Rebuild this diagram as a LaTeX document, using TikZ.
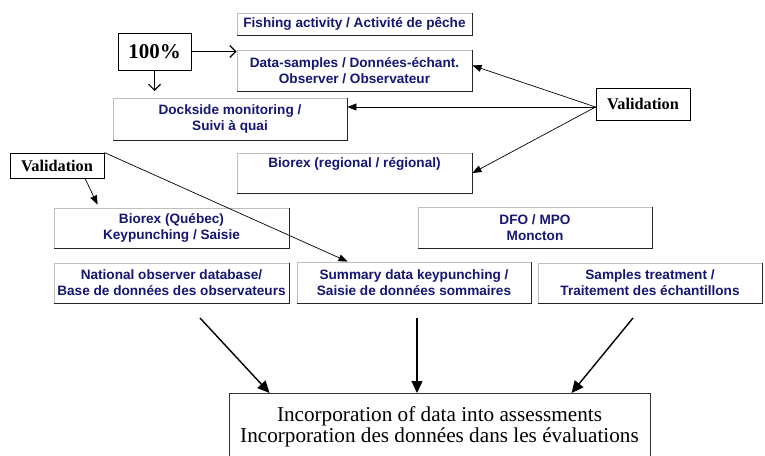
\documentclass[tikz,border=0pt]{standalone}
\usepackage{fontspec}
\setmainfont{Liberation Serif}
\setsansfont{Liberation Sans}
\usetikzlibrary{arrows.meta,calc}
\definecolor{navy}{RGB}{22,22,115}
\begin{document}
\begin{tikzpicture}[x=1pt,y=-1pt,
  box/.style={draw=gray!50, line width=0.9pt, fill=white, inner sep=0pt, align=center,
    font=\sffamily\bfseries\fontsize{13.6}{16}\selectfont, text=navy},
  tbox/.style={draw=black, line width=0.9pt, fill=white, inner sep=0pt,
    font=\bfseries\fontsize{16.3}{19}\selectfont},
  shadeline/.style={line width=1.2pt, black!85},
  thinarrow/.style={line width=0.7pt, -{Triangle[length=9pt,width=7pt]}},
  openarrow/.style={line width=1.1pt, -{Straight Barb[length=6pt,width=12pt]}},
  bigarrow/.style={line width=1.4pt, -{Triangle[length=12pt,width=11pt]}}
]
\useasboundingbox (0,0) rectangle (765,455);
\clip (0,0) rectangle (765,455);

% boxes
\node[box, minimum width=235pt, minimum height=22pt] (fish) at (354.5,24) {Fishing activity / Activité de pêche};
\node[box, minimum width=235pt, minimum height=41pt] (data) at (354.5,70.5) {Data-samples / Données-échant.\\Observer / Observateur};
\node[box, minimum width=234pt, minimum height=42pt] (dock) at (230,119) {Dockside monitoring /\\Suivi à quai};
\node[box, minimum width=235pt, minimum height=40pt] (bioR) at (354.5,173) {Biorex (regional / régional)\\\strut};
\node[box, minimum width=235pt, minimum height=40pt] (bioQ) at (171.5,228) {Biorex (Québec)\\Keypunching / Saisie};
\node[box, minimum width=234pt, minimum height=41pt] (dfo) at (535,227.5) {DFO / MPO\\Moncton};
\node[box, minimum width=235pt, minimum height=40pt] (nat) at (171.5,283) {National observer database/\\Base de données des observateurs};
\node[box, minimum width=234pt, minimum height=41pt] (summ) at (414,282.5) {Summary data keypunching /\\Saisie de données sommaires};
\node[box, minimum width=224pt, minimum height=40pt] (samp) at (650,283) {Samples treatment /\\Traitement des échantillons};

\foreach \n in {fish,data,dock,bioR,bioQ,dfo,nat,summ,samp}
  \draw[shadeline] (\n.north east) -- (\n.south east) -- (\n.south west);

\node[tbox, minimum width=73pt, minimum height=37pt, font=\bfseries\fontsize{21}{24}\selectfont] (pct) at (154.5,51.5) {100\%};
\node[tbox, minimum width=94pt, minimum height=32pt] (valR) at (643,104) {Validation};
\node[tbox, minimum width=94pt, minimum height=25pt] (valL) at (57,165.5) {Validation};

\node[draw=black!80, line width=0.9pt, minimum width=421pt, minimum height=90pt, anchor=north] (inc) at (439.5,393) {};
\node[align=center, inner sep=0pt, font=\fontsize{21.2}{21}\selectfont] (inctxt) at (439.5,426.5)
  {Incorporation of data into assessments\\Incorporation des données dans les évaluations};

% connectors
\draw[openarrow] (pct.east) -- (pct.east -| data.west);
\coordinate (pd) at (154.5,91);
\draw[openarrow] (pct.south) -- (pd);

\coordinate (vR) at ([yshift=-3pt]valR.west);
\draw[thinarrow] (vR) -- ([yshift=5pt]data.east);
\draw[thinarrow] (vR) -- (vR -| dock.east);
\draw[thinarrow] (vR) -- (bioR.east);

\draw[thinarrow] ([xshift=28pt]valL.south) -- ($(bioQ.north west)+(44,-3)$);
\draw[thinarrow] (valL.north east) -- ($(summ.north west)+(51,0)$);

\coordinate (a1) at (200,318);
\coordinate (a2) at (417,318);
\coordinate (a3) at (633,318);
\draw[bigarrow] (a1) -- ($(inc.north west)+(41,0)$);
\draw[bigarrow] (a2) -- (a2 |- inc.north);
\draw[bigarrow] (a3) -- ($(inc.north west)+(343,0)$);
\end{tikzpicture}
\end{document}
